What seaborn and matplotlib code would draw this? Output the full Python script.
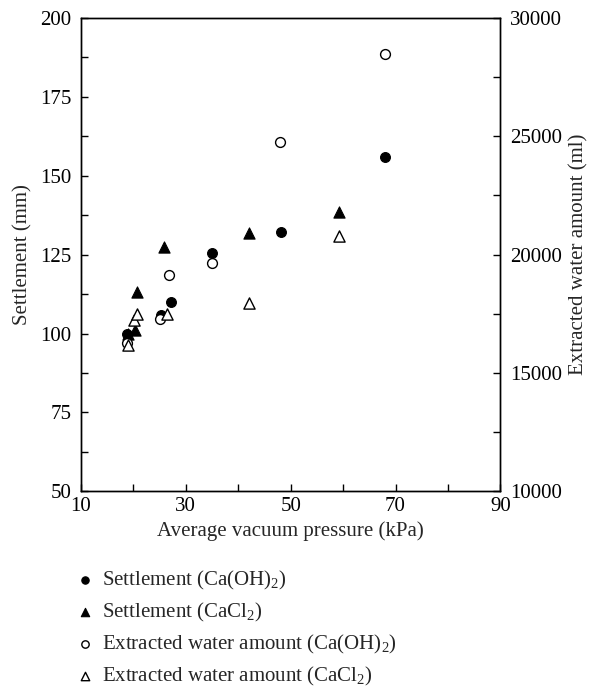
import numpy as np
import pandas as pd
import matplotlib
matplotlib.use("Agg")
import matplotlib.pyplot as plt
from matplotlib.ticker import MultipleLocator, FixedLocator
import seaborn as sns

# Data
settle_caoh_x = [18.8, 25.3, 27.1, 35.0, 48.1, 68.0]
settle_caoh_y = [99.7, 105.8, 110.0, 125.4, 132.2, 155.8]
settle_cacl_x = [18.9, 20.3, 20.6, 25.8, 42.1, 59.3]
settle_cacl_y = [100.0, 101.0, 113.2, 127.4, 131.7, 138.6]
water_caoh_x = [18.8, 25.1, 26.8, 35.0, 48.0, 67.9]
water_caoh_y = [16270, 17300, 19130, 19650, 24770, 28470]
water_cacl_x = [18.9, 20.2, 20.6, 26.4, 42.1, 59.3]
water_cacl_y = [16170, 17230, 17480, 17500, 17970, 20790]

x_major = [10, 30, 50, 70, 90]
x_minor = [20, 40, 60, 80]

labels = [r"Settlement (Ca(OH)$_\mathregular{2}$)",
          r"Settlement (CaCl$_\mathregular{2}$)",
          r"Extracted water amount (Ca(OH)$_\mathregular{2}$)",
          r"Extracted water amount (CaCl$_\mathregular{2}$)"]

sns.set_style("ticks")
plt.rcParams["font.family"] = ["Liberation Serif", "DejaVu Serif"]
plt.rcParams["mathtext.fontset"] = "custom"
plt.rcParams["mathtext.rm"] = "Liberation Serif"
fs = 15
plt.rcParams["font.size"] = fs

fig = plt.figure(figsize=(5.89, 6.90), dpi=100)
ax = fig.add_axes([0.1375, 0.288, 0.712, 0.686])
ax2 = ax.twinx()

ms = 50
sns.scatterplot(x=settle_caoh_x, y=settle_caoh_y, marker="o", s=ms, color="black",
                edgecolor="black", linewidth=0.8, ax=ax, label=labels[0], zorder=3)
sns.scatterplot(x=settle_cacl_x, y=settle_cacl_y, marker="^", s=ms * 1.3, color="black",
                edgecolor="black", linewidth=0.8, ax=ax, label=labels[1], zorder=3)
sns.scatterplot(x=water_caoh_x, y=water_caoh_y, marker="o", s=ms, facecolor="white",
                edgecolor="black", linewidth=1.0, ax=ax2, label=labels[2], zorder=2)
sns.scatterplot(x=water_cacl_x, y=water_cacl_y, marker="^", s=ms * 1.3, facecolor="white",
                edgecolor="black", linewidth=1.0, ax=ax2, label=labels[3], zorder=2)

ax.set_xlim(10, 90)
ax.set_ylim(50, 200)
ax2.set_ylim(10000, 30000)

ax.xaxis.set_major_locator(FixedLocator(x_major))
ax.xaxis.set_minor_locator(FixedLocator(x_minor))
ax.yaxis.set_major_locator(MultipleLocator(25))
ax.yaxis.set_minor_locator(MultipleLocator(12.5))
ax2.yaxis.set_major_locator(MultipleLocator(5000))
ax2.yaxis.set_minor_locator(MultipleLocator(2500))

for a in (ax, ax2):
    a.tick_params(which="both", direction="in", length=5, width=1, colors="black",
                  labelsize=fs, pad=7)
    for sp in a.spines.values():
        sp.set_visible(True)
        sp.set_color("black")
        sp.set_linewidth(1.0)
ax.tick_params(which="both", top=False, right=False)
ax.tick_params(axis="x", pad=4)
ax2.tick_params(which="both", top=False, left=False, bottom=False)

ax.set_xlabel("Average vacuum pressure (kPa)", fontsize=fs, labelpad=4)
ax.set_ylabel("Settlement (mm)", fontsize=fs, labelpad=5)
ax2.set_ylabel("Extracted water amount (ml)", fontsize=fs, labelpad=5)

h1, l1 = ax.get_legend_handles_labels()
h2, l2 = ax2.get_legend_handles_labels()
ax.get_legend().remove()
ax2.get_legend().remove()
fig.legend(h1 + h2, l1 + l2, loc="upper left", bbox_to_anchor=(0.11, 0.187),
           frameon=False, fontsize=fs, markerscale=0.75, handletextpad=0.3,
           labelspacing=0.42, handlelength=1.1, borderaxespad=0)

fig.savefig("out.png", dpi=100)
